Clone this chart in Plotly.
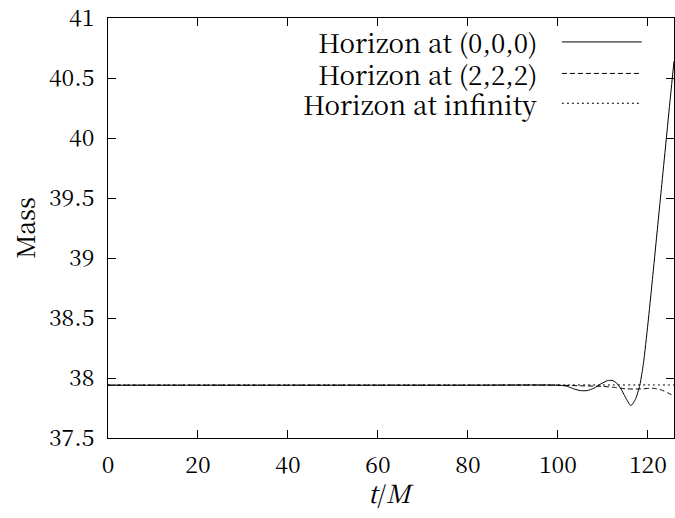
import plotly.graph_objects as go

# ---- data ----
series_names = ["Horizon at (0,0,0)", "Horizon at (2,2,2)", "Horizon at infinity"]

t_origin = [0, 20, 40, 60, 80, 100, 102, 103.5, 105, 106.5, 108, 109.5, 111, 112,
            113, 114, 115, 116.2, 117.2, 118.2, 119, 120, 121, 122, 123, 124, 125, 125.8]
m_origin = [37.94, 37.94, 37.94, 37.94, 37.94, 37.94, 37.932, 37.91, 37.895, 37.895,
            37.915, 37.95, 37.978, 37.98, 37.96, 37.91, 37.84, 37.77, 37.82, 37.94,
            38.12, 38.45, 38.82, 39.2, 39.58, 39.96, 40.34, 40.64]

t_222 = [0, 20, 40, 60, 80, 100, 105, 110, 113, 115, 117, 119, 121, 123, 124.5, 125.8]
m_222 = [37.94, 37.94, 37.94, 37.94, 37.94, 37.94, 37.935, 37.93, 37.92, 37.91,
         37.908, 37.91, 37.915, 37.9, 37.875, 37.85]

t_inf = [0, 20, 40, 60, 80, 100, 110, 120, 125.8]
m_inf = [37.942, 37.942, 37.942, 37.942, 37.942, 37.942, 37.942, 37.942, 37.942]

x_ticks = [0, 20, 40, 60, 80, 100, 120]
y_ticks = [37.5, 38, 38.5, 39, 39.5, 40, 40.5, 41]

FONT = "Noto Serif CJK SC"
dashes = ["solid", "5px,3px", "2px,3px"]

fig = go.Figure()
for name, xs, ys, d in zip(series_names, [t_origin, t_222, t_inf], [m_origin, m_222, m_inf], dashes):
    fig.add_trace(go.Scatter(x=xs, y=ys, mode="lines", name=name, showlegend=False,
                             line=dict(color="black", width=1, dash=d, shape="spline", smoothing=0.6)))

# gnuplot-style legend: right-aligned text, sample line on right
rows_y = [0.943, 0.868, 0.797]
for name, yy, d in zip(series_names, rows_y, dashes):
    fig.add_annotation(x=0.762, y=yy, xref="paper", yref="paper", text=name, showarrow=False,
                       xanchor="right", yanchor="middle", font=dict(family=FONT, size=26, color="black"))
    fig.add_shape(type="line", xref="paper", yref="paper", x0=0.802, x1=0.943, y0=yy, y1=yy,
                  line=dict(color="black", width=1, dash=d))

# axis titles
fig.add_annotation(x=0.5, y=-0.128, xref="paper", yref="paper", text="<i>t</i>/<i>M</i>",
                   showarrow=False, xanchor="center", yanchor="middle",
                   font=dict(family=FONT, size=25, color="black"))
fig.add_annotation(x=-0.149, y=0.5, xref="paper", yref="paper", text="Mass", textangle=-90,
                   showarrow=False, xanchor="center", yanchor="middle",
                   font=dict(family=FONT, size=25, color="black"))

axis_common = dict(showgrid=False, zeroline=False, showline=True, linecolor="black", linewidth=1,
                   ticks="inside", ticklen=8, tickwidth=1, tickcolor="black", mirror="ticks",
                   ticklabeloverflow="allow",
                   tickfont=dict(family=FONT, size=23, color="black"))
fig.update_xaxes(range=[0, 125.8], tickvals=x_ticks, ticktext=[str(v) for v in x_ticks],
                 ticklabelstandoff=6, **axis_common)
fig.update_yaxes(range=[37.5, 41], tickvals=y_ticks, ticktext=[("%g" % v) for v in y_ticks],
                 ticklabelstandoff=8, **axis_common)

fig.update_layout(width=675, height=518, margin=dict(l=108, r=0, t=16, b=80),
                  paper_bgcolor="white", plot_bgcolor="white", showlegend=False,
                  font=dict(family=FONT, size=23, color="black"))

fig.write_html("out.html")
